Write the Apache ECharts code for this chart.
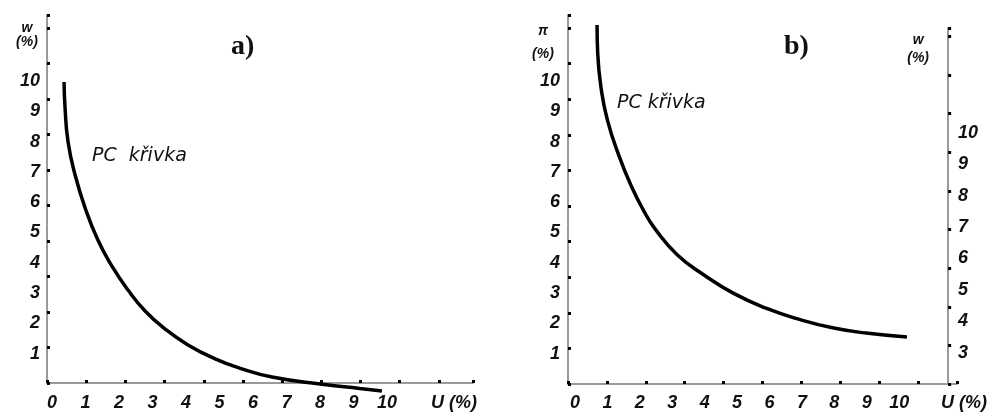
<!DOCTYPE html>
<html>
<head>
<meta charset="utf-8">
<script src="https://cdn.jsdelivr.net/npm/echarts@6/dist/echarts.min.js"></script>
<style>
html, body { margin: 0; padding: 0; background: #fff; }
#container { width: 990px; height: 413px; }
</style>
</head>
<body>
<div id="container"></div>
<script>
// a) PC křivka: nezaměstnanost U (%) -> mzdy w (%)
var uA = [0.36, 0.39, 0.48, 0.69, 0.99, 1.37, 1.79, 2.27, 2.78, 3.37, 4.06, 4.87, 5.67, 6.57, 8.00, 9.19, 9.85];
var wA = [9.97, 9.11, 7.99, 6.90, 5.81, 4.75, 3.89, 3.10, 2.41, 1.82, 1.29, 0.83, 0.50, 0.23, 0.00, -0.15, -0.23];

// b) PC křivka: nezaměstnanost U (%) -> inflace π (%)
var uB = [0.68, 0.70, 0.80, 1.00, 1.36, 1.75, 2.11, 2.47, 3.16, 3.98, 4.88, 5.87, 6.99, 7.98, 8.98, 10.24];
var piB = [11.85, 10.92, 9.80, 8.71, 7.52, 6.50, 5.74, 5.12, 4.26, 3.60, 3.00, 2.51, 2.11, 1.85, 1.68, 1.55];

// popisky os (index = hodnota)
var xTickLabels = ['0', '1', '2', '3', '4', '5', '6', '7', '8', '9', '10', '', 'U (%)'];
var yTickLabels = ['', '1', '2', '3', '4', '5', '6', '7', '8', '9', '10'];
var wRightLabels = ['', '', '', '3', '4', '5', '6', '7', '8', '9', '10'];

var labelFont = {
    fontFamily: 'Liberation Sans',
    fontStyle: 'italic',
    fontWeight: 'bold',
    fontSize: 18,
    color: '#111'
};

function pick(list) {
    return function (v) {
        var s = list[Math.round(v)];
        return s === undefined ? '' : s;
    };
}

// osa jen s čárou a tečkami
function dotAxis(grid, max, pos, extra) {
    var axis = {
        type: 'value', gridIndex: grid, min: 0, max: max, interval: 1, position: pos,
        axisLine: { show: true, onZero: false, lineStyle: { color: '#9a9a9a', width: 2 } },
        axisTick: { show: true, inside: pos !== 'right', length: 3, lineStyle: { color: '#000', width: 3 } },
        axisLabel: { show: false },
        splitLine: { show: false }
    };
    return Object.assign(axis, extra || {});
}

// neviditelná osa s popisky (nese data)
function labelAxis(grid, min, max, pos, list, margin) {
    return {
        type: 'value', gridIndex: grid, min: min, max: max, interval: 1, position: pos,
        axisLine: { show: false },
        axisTick: { show: false },
        splitLine: { show: false },
        axisLabel: Object.assign({ margin: margin, formatter: pick(list) }, labelFont)
    };
}

function axisName(text, gap, lineHeight, shift) {
    return {
        name: text,
        nameLocation: 'end',
        nameGap: gap,
        nameTextStyle: {
            fontFamily: 'Liberation Sans', fontStyle: 'italic', fontWeight: 'bold',
            fontSize: 14, lineHeight: lineHeight, color: '#111',
            align: 'center', verticalAlign: 'middle', padding: [0, shift, 0, 0]
        }
    };
}

function pairs(xs, ys) {
    return xs.map(function (x, i) { return [x, ys[i]]; });
}

function note(text, left, top, style) {
    return { text: text, left: left, top: top, padding: 0, textStyle: Object.assign({ color: '#111' }, style) };
}

var curveFont = { fontFamily: 'DejaVu Sans', fontStyle: 'italic', fontWeight: 'normal', fontSize: 19 };
var partFont = { fontFamily: 'Liberation Serif', fontWeight: 'bold', fontSize: 28 };

var option = {
    animation: false,
    backgroundColor: '#fff',
    title: [
        note('a)', 231, 33, partFont),
        note('b)', 784, 33, partFont),
        note('PC  křivka', 92, 147, curveFont),
        note('PC křivka', 617, 94, curveFont)
    ],
    grid: [
        { left: 47, top: 15, width: 426, height: 368 },
        { left: 52, top: 15, width: 421, height: 369 },
        { left: 568, top: 15, width: 389, height: 369 },
        { left: 575, top: 15, width: 415, height: 369 },
        { left: 900, top: 28, width: 57, height: 356 }
    ],
    xAxis: [
        dotAxis(0, 10.87, 'bottom'),
        labelAxis(1, 0, 12.57, 'bottom', xTickLabels, 10),
        dotAxis(2, 10, 'bottom'),
        labelAxis(3, 0, 12.5, 'bottom', xTickLabels, 10),
        { type: 'value', gridIndex: 4, min: 0, max: 1, show: false }
    ],
    yAxis: [
        dotAxis(0, 10.37, 'left', axisName('w\n(%)', -20, 14, 40)),
        labelAxis(1, 0, 12.18, 'left', yTickLabels, 12),
        dotAxis(2, 10.37, 'left', axisName('π\n(%)', -28, 23, 50)),
        labelAxis(3, 0, 12.18, 'left', yTickLabels, 15),
        dotAxis(4, 9.22, 'right', axisName('w\n(%)', -21, 18, 60)),
        labelAxis(4, 2, 13.34, 'right', wRightLabels, 10)
    ],
    series: [
        {
            type: 'line', xAxisIndex: 1, yAxisIndex: 1,
            data: pairs(uA, wA),
            smooth: 0.5, symbol: 'none', clip: false,
            lineStyle: { color: '#000', width: 3.5 }
        },
        {
            type: 'line', xAxisIndex: 3, yAxisIndex: 3,
            data: pairs(uB, piB),
            smooth: 0.5, symbol: 'none', clip: false,
            lineStyle: { color: '#000', width: 3.5 }
        }
    ]
};

var chart = echarts.init(document.getElementById('container'), null, { renderer: 'canvas' });
chart.setOption(option);
</script>
</body>
</html>
